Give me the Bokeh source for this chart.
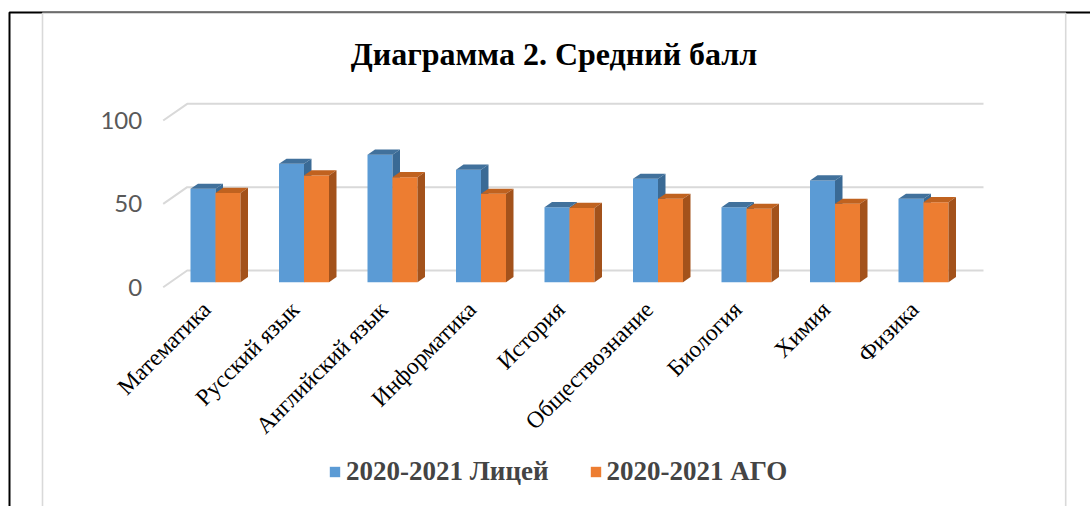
import math
from bokeh.plotting import figure
from bokeh.models import Range1d, FixedTicker, Legend, LegendItem, Label
from bokeh.embed import file_html
from bokeh.resources import INLINE

# ---------------- data ----------------
categories = ["Математика", "Русский язык", "Английский язык", "Информатика",
              "История", "Обществознание", "Биология", "Химия", "Физика"]
liceum = [56, 71, 76.5, 67.5, 45, 62, 45, 61, 50]
ago = [53.5, 64, 63, 53, 44.5, 50, 44, 47, 48]
series_names = ["2020-2021 Лицей", "2020-2021 АГО"]
chart_title = "Диаграмма 2. Средний балл"
y_ticks = [0, 50, 100]

# ---------------- geometry ----------------
W, H = 1090, 506
CAT0_PX, PX_CAT = 215.0, 88.5     # pixel of category 0, px per category
ZERO_PX, PX_VAL = 286.7, 1.6667   # pixel of value 0 (front plane), px per unit
LABEL_SHIFT = 9                   # category labels sit a little left of bars


def dx(px):
    return (px - CAT0_PX) / PX_CAT


def dy(py):
    return (ZERO_PX - py) / PX_VAL


xr = Range1d(dx(0), dx(W))
yr = Range1d(dy(H), dy(0))

bar_w = 25 / PX_CAT
base = dy(281.7)
ddx = 7.5 / PX_CAT
ddy = 5.2 / PX_VAL
gx0 = dx(162.7)
gdx = 24 / PX_CAT
gdy = 16.7 / PX_VAL
gx1 = dx(983)

BLUE, BLUE_TOP, BLUE_SIDE = "#5B9BD5", "#41719C", "#3A6A95"
ORANGE, ORANGE_TOP, ORANGE_SIDE = "#ED7D31", "#C0621F", "#A3521B"
GRID = "#D9D9D9"

p = figure(width=W, height=H, x_range=xr, y_range=yr, output_backend="svg",
           toolbar_location=None, min_border=0)
p.title = None
p.outline_line_color = None
p.xgrid.visible = False
p.ygrid.visible = False
p.extra_x_ranges = {"labels": Range1d(dx(0) + LABEL_SHIFT / PX_CAT,
                                      dx(W) + LABEL_SHIFT / PX_CAT)}

# page / chart-area borders
p.multi_line([[dx(9), dx(9), dx(W + 5)]],
             [[dy(H + 10), dy(12), dy(12)]], line_color="black", line_width=2)
p.multi_line([[dx(42), dx(42), dx(1065.2), dx(1065.2)]],
             [[dy(H + 10), dy(12.7), dy(12.7), dy(H + 10)]],
             line_color=GRID, line_width=1.6)

# 3D gridlines (floor edge + back wall)
gxs, gys = [], []
for v in y_ticks:
    gxs.append([gx0, gx0 + gdx, gx1])
    gys.append([v, v + gdy, v + gdy])
p.multi_line(gxs, gys, line_color=GRID, line_width=2)

n = len(categories)
idx = list(range(n))


def faces(lefts, rights, tops):
    top_xs, top_ys, side_xs, side_ys = [], [], [], []
    for l, r, t in zip(lefts, rights, tops):
        top_xs.append([l, r, r + ddx, l + ddx])
        top_ys.append([t, t, t + ddy, t + ddy])
        side_xs.append([r, r + ddx, r + ddx, r])
        side_ys.append([base, base + ddy, t + ddy, t])
    return top_xs, top_ys, side_xs, side_ys


renderers = []
for vals, shift, cf, ct, cs in [(liceum, -bar_w, BLUE, BLUE_TOP, BLUE_SIDE),
                                (ago, 0.0, ORANGE, ORANGE_TOP, ORANGE_SIDE)]:
    lefts = [i + shift for i in idx]
    rights = [l + bar_w for l in lefts]
    tops = [base + v for v in vals]
    txs, tys, sxs, sys_ = faces(lefts, rights, tops)
    r = p.quad(left=lefts, right=rights, bottom=[base] * n, top=tops,
               fill_color=cf, line_color=None)
    p.patches(txs, tys, fill_color=ct, line_color=None)
    p.patches(sxs, sys_, fill_color=cs, line_color=None)
    renderers.append(r)

# axes (drawn at fixed locations inside the full-canvas frame)
p.yaxis.fixed_location = gx0
p.yaxis.ticker = FixedTicker(ticks=y_ticks)
p.yaxis.axis_line_color = None
p.yaxis.major_tick_line_color = None
p.yaxis.minor_tick_line_color = None
p.yaxis.major_label_text_font = "Lato"
p.yaxis.major_label_text_font_size = "24px"
p.yaxis.major_label_text_color = "#595959"
p.yaxis.major_label_standoff = 15

p.xaxis.x_range_name = "labels"
p.xaxis.fixed_location = dy(287)
p.xaxis.ticker = FixedTicker(ticks=idx)
p.xaxis.major_label_overrides = {i: c for i, c in enumerate(categories)}
p.xaxis.major_label_orientation = math.pi / 4
p.xaxis.axis_line_color = None
p.xaxis.major_tick_line_color = None
p.xaxis.minor_tick_line_color = None
p.xaxis.major_label_text_font = "Liberation Serif"
p.xaxis.major_label_text_font_size = "23.5px"
p.xaxis.major_label_text_color = "#000000"
p.xaxis.major_label_standoff = 12

# title
p.add_layout(Label(x=553.5, y=H - 53, x_units="screen", y_units="screen",
                   text=chart_title, text_align="center",
                   text_baseline="alphabetic", text_font="Liberation Serif",
                   text_font_style="bold", text_font_size="32px",
                   text_color="#000000"))

# legend
legend = Legend(items=[LegendItem(label=series_names[0], renderers=[renderers[0]]),
                       LegendItem(label=series_names[1], renderers=[renderers[1]])],
                orientation="horizontal", location=(328, 19),
                label_text_font="Liberation Serif", label_text_font_style="bold",
                label_text_font_size="27px", glyph_width=13, glyph_height=13,
                label_standoff=5, spacing=40, border_line_color=None,
                background_fill_alpha=0)
p.add_layout(legend, "center")

open("out.html", "w").write(file_html(p, INLINE))
